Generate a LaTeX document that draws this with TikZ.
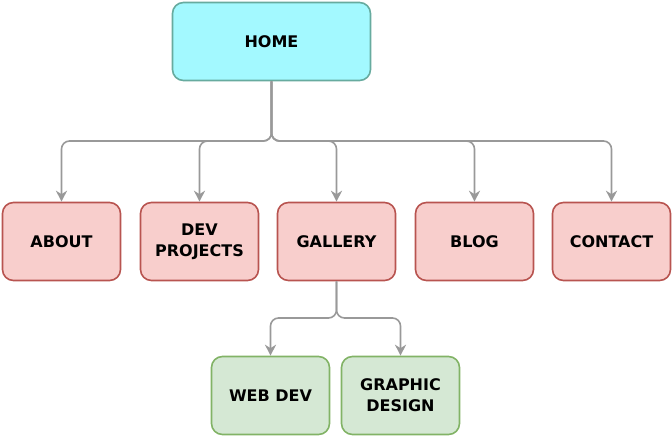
\documentclass[tikz,border=0pt]{standalone}
\usepackage{fontspec}
\setmainfont{DejaVu Sans}
\usetikzlibrary{arrows.meta}
\definecolor{homefill}{HTML}{A3F9FF}
\definecolor{homeline}{HTML}{67AB9F}
\definecolor{pagefill}{HTML}{F8CECC}
\definecolor{pageline}{HTML}{B85450}
\definecolor{subfill}{HTML}{D5E8D4}
\definecolor{subline}{HTML}{82B366}
\definecolor{linkgray}{HTML}{999999}

\begin{document}
\begin{tikzpicture}[x=1pt,y=-1pt,
    box/.style={rounded corners=11pt, minimum width=118pt, minimum height=78pt,
      line width=1.6pt, align=center, inner sep=0pt,
      font=\fontsize{16}{21}\selectfont\bfseries},
    home/.style={box, minimum width=198pt, fill=homefill, draw=homeline},
    page/.style={box, fill=pagefill, draw=pageline},
    sub/.style={box, fill=subfill, draw=subline},
    link/.style={draw=linkgray, line width=1.6pt, rounded corners=8pt,
      -{Stealth[length=11pt,width=11pt,inset=3.5pt]}}]

    \useasboundingbox (0,0) rectangle (672,436);

    \node[home] (home) at (271.5,41.5) {HOME};

    \node[page] (about)   at (61.5,241.5)  {ABOUT};
    \node[page] (devproj) at (199.5,241.5) {DEV\\PROJECTS};
    \node[page] (gallery) at (336.5,241.5) {GALLERY};
    \node[page] (blog)    at (474.5,241.5) {BLOG};
    \node[page] (contact) at (611.5,241.5) {CONTACT};

    \node[sub] (webdev)  at (270.5,395.5) {WEB DEV};
    \node[sub] (graphic) at (400.5,395.5) {GRAPHIC\\DESIGN};

    \coordinate (split)  at (271.5,141);
    \coordinate (gsplit) at (336.5,318);

    \foreach \p in {about,devproj,gallery,blog,contact}
      \draw[link] (home.south) -- (split) -| (\p.north);

    \draw[link] (gallery.south) -- (gsplit) -| (webdev.north);
    \draw[link] (gallery.south) -- (gsplit) -| (graphic.north);

  \end{tikzpicture}
\end{document}
